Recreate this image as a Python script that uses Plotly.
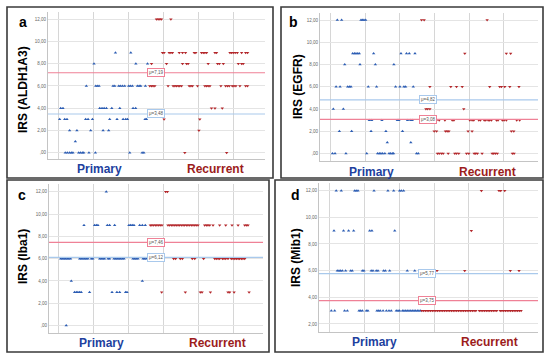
import plotly.graph_objects as go

W, H = 550, 359
FONT = '"Liberation Sans", Arial, sans-serif'

# ---------------- data (x = case position, grouped by IRS level) ----------------
a_pri_levels = [0, 1, 2, 3, 4, 6, 8, 9]
a_pri_pos = [
    [3.6, 4.8, 6.1, 7.1, 8.0, 11.3, 12.3, 13.4, 14.2, 17.2, 20.9, 40.6, 47.7, 48.7],
    [9.4],
    [6.1, 10.3, 18.2, 25.3, 28.5],
    [0.4, 3.3, 4.6, 15.3, 16.7, 19.2, 29.1, 33.3, 36.8, 38.3, 39.3, 49.4, 50.2],
    [1.0, 2.3, 23.4, 24.7, 25.9, 27.2, 30.3, 34.9, 42.5, 44.0],
    [15.7, 21.1, 22.0, 23.0, 31.0, 32.0, 34.3, 35.2, 36.4, 37.7, 40.0, 41.0, 42.1, 45.0, 46.0, 46.9, 49.6],
    [20.1, 44.1, 50.8],
    [32.4, 41.2],
]
a_rec_levels = [0, 2, 3, 4, 6, 8, 9, 12]
a_rec_pos = [
    [72.2, 96.2],
    [80.3],
    [60.3, 80.8],
    [87.5, 89.5, 93.7],
    [52.1, 53.1, 54.0, 55.0, 62.6, 65.5, 66.5, 67.4, 68.4, 69.3, 70.3, 74.7, 75.7, 76.6, 79.5, 83.7, 84.7,
     85.6, 86.6, 92.9, 95.6, 96.7, 97.7, 99.4, 100.4, 101.5, 103.8, 107.1, 108.2],
    [53.1, 61.7, 70.9, 73.2, 74.1, 85.6, 91.0, 92.0, 94.3, 102.9, 104.8, 105.7],
    [59.4, 60.3, 63.2, 64.2, 65.1, 69.0, 70.9, 72.6, 77.6, 78.5, 81.8, 82.8, 83.7, 84.7, 89.5, 90.4, 98.1,
     99.0, 100.0, 101.1, 102.3, 104.8, 107.1, 108.2],
    [55.9, 56.9, 57.9, 58.8, 64.2],
]

b_pri_levels = [0, 1, 2, 3, 4, 6, 8, 9, 12]
b_pri_pos = [
    [1.0, 2.5, 8.8, 20.8, 27.1, 28.1, 29.0, 30.0, 31.3, 33.7, 34.6, 35.6, 36.3, 49.6, 50.6],
    [32.7, 46.3],
    [5.0, 12.1, 23.3, 31.9, 41.5],
    [22.3, 23.7, 29.6, 38.5, 39.4, 44.4, 46.2, 47.1],
    [1.5, 7.3],
    [3.1, 5.4, 9.8, 10.8, 11.7, 21.7, 26.5, 37.5, 40.0, 42.3, 43.3, 47.7],
    [8.1, 16.9, 25.8, 36.5],
    [12.7, 13.7, 14.6, 15.6, 16.5, 24.8, 40.6, 43.8, 45.4, 48.7],
    [3.8, 6.3, 17.5, 18.3, 19.2, 20.2],
]
b_rec_levels = [0, 2, 3, 4, 6, 9, 12]
b_rec_pos = [
    [61.7, 62.7, 64.0, 65.0, 67.9, 71.7, 72.7, 74.0, 78.5, 79.8, 82.9, 83.8, 84.8, 87.5, 93.3, 94.2, 95.2,
     96.3, 105.0, 106.0],
    [59.8, 61.2, 66.3, 67.3, 68.3, 79.4, 81.7, 104.4, 105.8],
    [56.9, 61.2, 62.7, 66.0, 70.2, 71.2, 80.4, 81.7, 82.7, 85.6, 86.5, 88.7, 89.6, 91.0, 91.9, 92.9, 95.8,
     96.7, 99.2, 100.2, 101.5, 107.5, 109.2],
    [55.0, 56.0, 57.3, 76.9],
    [57.3, 69.4, 72.7, 76.0, 91.9, 97.7, 98.7, 100.6, 103.5, 108.8],
    [77.5, 101.5, 104.0],
    [52.5, 54.0, 90.4],
]

c_pri_levels = [0, 3, 4, 6, 9, 12]
c_pri_pos = [
    [4.2],
    [9.0, 10.0, 10.9, 11.9, 12.8, 17.6, 30.5, 33.3, 34.9, 38.3, 39.1],
    [7.1, 47.9],
    [1.0, 1.9, 2.9, 3.8, 4.8, 5.7, 6.7, 11.9, 12.8, 13.8, 14.8, 15.7, 16.7, 18.6, 19.5, 23.4, 24.3, 25.3,
     26.2, 28.2, 29.1, 31.6, 32.6, 33.5, 34.5, 35.4, 36.4, 37.4, 42.5, 43.5, 44.4, 45.4, 48.3, 49.2, 50.2],
    [14.4, 20.5, 21.5, 22.4, 27.8, 29.1, 32.0, 40.2, 41.2, 42.1, 43.1, 46.4, 47.9, 49.6],
    [27.2],
]
c_rec_levels = [3, 6, 9, 12]
c_rec_pos = [
    [59.0, 72.6, 81.2, 82.2, 87.0, 97.1, 98.1, 100.6, 109.2],
    [65.9, 67.0, 69.7, 70.9, 76.6, 78.0, 83.1, 89.5, 90.4, 91.4, 92.3, 93.9, 94.8, 95.8, 97.1, 99.0, 100.0,
     101.0, 101.9, 102.9, 103.8, 104.8, 105.7, 106.7],
    [52.5, 53.4, 54.4, 55.4, 56.3, 57.3, 58.2, 59.2, 62.6, 63.6, 64.6, 65.5, 66.5, 67.4, 68.4, 69.3, 70.3,
     71.3, 72.2, 73.2, 74.1, 75.1, 76.1, 77.0, 78.0, 78.9, 79.9, 83.7, 84.7, 85.6, 86.6, 88.5, 92.3, 95.8,
     99.4, 102.9, 106.7, 107.7, 108.6],
    [61.3, 62.3],
]

d_pri_levels = [3, 6, 9, 12]
d_pri_pos = [
    [1.0, 2.9, 8.6, 10.2, 16.9, 17.8, 18.8, 21.1, 22.0, 27.2, 28.2, 29.1, 30.7, 32.6, 34.1, 35.4, 38.3, 39.3,
     40.2, 41.8, 42.7, 43.7, 44.6, 45.6, 46.6, 47.5, 48.5, 49.4, 50.4, 51.3, 52.3],
    [4.4, 5.4, 6.3, 7.3, 9.2, 12.1, 13.0, 18.8, 19.7, 23.9, 24.9, 26.8, 27.8, 31.0, 32.0, 34.5, 44.6, 48.9],
    [2.5, 8.0, 10.9, 13.8, 23.0, 24.3, 37.4],
    [3.8, 6.7, 14.4, 15.3, 16.3, 25.5, 33.5, 36.8, 40.2, 41.2, 42.5],
]
d_rec_levels = [3, 6, 9, 12]
d_rec_pos = [
    [53, 54, 55, 56, 57, 58, 59, 60, 61, 62, 63, 64, 65, 66, 67, 68, 69, 70, 71, 72, 73, 74, 75, 76, 77, 78,
     79, 80, 81, 82, 83, 84, 86, 87, 88, 89, 90, 91, 92, 93, 94, 95, 96, 98, 99, 100, 101, 102, 103, 104,
     105, 106, 107, 108, 109, 110],
    [61.7, 77.6, 103.8, 108.8],
    [81.4],
    [87.2, 97.3, 98.3, 100.6],
]

mean_primary = [3.48, 4.82, 6.12, 5.77]
mean_recurrent = [7.19, 3.08, 7.46, 3.75]
mean_primary_txt = ["μ=3,48", "μ=4,82", "μ=6,12", "μ=5,77"]
mean_recurrent_txt = ["μ=7,19", "μ=3,08", "μ=7,46", "μ=3,75"]

panel_letters = ["a", "b", "c", "d"]
y_titles = ["IRS (ALDH1A3)", "IRS (EGFR)", "IRS (Iba1)", "IRS (Mib1)"]
tick_vals_full = [0, 2, 4, 6, 8, 10, 12]
tick_text_full = [",00", "2,00", "4,00", "6,00", "8,00", "10,00", "12,00"]
tick_vals_d = [2, 4, 6, 8, 10, 12]
tick_text_d = ["2,00", "4,00", "6,00", "8,00", "10,00", "12,00"]
group_labels = ["Primary", "Recurrent"]

# ---------------- layout geometry (pixels) ----------------
panels = [
    dict(plot=(48, 265, 12, 159.3), xr=[-6.3, 118.2], yr=[-0.6, 12.66], box=(7, 273, 7, 178),
         letter=(23, 22), ytitle=(23, 90), labels=((99, 169), (215, 169)), label_x=55.7),
    dict(plot=(320, 538, 12.7, 161.3), xr=[-6.2, 119.8], yr=[-0.69, 12.66], box=(281, 543, 7, 178),
         letter=(293, 22), ytitle=(298, 87), labels=((371, 172), (487, 172)), label_x=56.3),
    dict(plot=(49, 263, 184, 333.3), xr=[-5.7, 117.2], yr=[-0.69, 12.69], box=(7, 269, 180, 352),
         letter=(22, 195), ytitle=(23, 257), labels=((101, 343), (217, 343)), label_x=55.6),
    dict(plot=(319, 538, 183.3, 331.7), xr=[-6.1, 119.7], yr=[1.42, 12.55], box=(275, 543, 180, 352),
         letter=(295, 195), ytitle=(296, 258), labels=((374, 342), (489, 342)), label_x=56.1),
]

def px(x):
    return x / W

def py(y):
    return 1 - y / H

BLUE = "#2b5cb3"
RED = "#b3262a"
BLUE_TXT = "#213f9e"
RED_TXT = "#9c1c1c"
BLUE_LINE = "#a9c9ec"
RED_LINE = "#ef8196"

data_sets = [
    (a_pri_levels, a_pri_pos, a_rec_levels, a_rec_pos),
    (b_pri_levels, b_pri_pos, b_rec_levels, b_rec_pos),
    (c_pri_levels, c_pri_pos, c_rec_levels, c_rec_pos),
    (d_pri_levels, d_pri_pos, d_rec_levels, d_rec_pos),
]

def flatten(levels, pos):
    xs, ys = [], []
    for lv, ps in zip(levels, pos):
        for p in ps:
            xs.append(p)
            ys.append(lv)
    return xs, ys

fig = go.Figure()
shapes = []
annotations = []
layout = {}

def paper_text(x, y, text, size, color, angle=0):
    return dict(x=px(x), y=py(y), xref="paper", yref="paper", text=text, showarrow=False,
                xanchor="center", yanchor="middle", textangle=angle,
                font=dict(size=size, color=color, family=FONT))

for i, (pan, ds) in enumerate(zip(panels, data_sets)):
    n = "" if i == 0 else str(i + 1)
    xa, ya = "x" + n, "y" + n
    l, r, t, b = pan["plot"]
    layout["xaxis" + n] = dict(
        domain=[px(l), px(r)], range=pan["xr"], anchor=ya,
        tickvals=[0, 20, 40, 60, 80, 100], showticklabels=False, ticks="",
        showgrid=True, gridcolor="#d6d6d6", gridwidth=1.3, zeroline=False,
        showline=True, linecolor="#c4c4c4", linewidth=1,
    )
    layout["yaxis" + n] = dict(
        domain=[py(b), py(t)], range=pan["yr"], anchor=xa,
        tickvals=tick_vals_d if i == 3 else tick_vals_full,
        ticktext=tick_text_d if i == 3 else tick_text_full,
        tickfont=dict(size=4.5, color="#666666", family=FONT),
        ticks="", showgrid=True, gridcolor="#e4e4e4", gridwidth=1, zeroline=False,
        showline=True, linecolor="#c4c4c4", linewidth=1,
    )
    pl, pp, rl, rp = ds
    x1, y1 = flatten(pl, pp)
    x2, y2 = flatten(rl, rp)
    fig.add_trace(go.Scatter(x=x1, y=y1, mode="markers", xaxis=xa, yaxis=ya, showlegend=False,
                             hoverinfo="skip",
                             marker=dict(symbol="triangle-up", size=3, color=BLUE, line=dict(width=0))))
    fig.add_trace(go.Scatter(x=x2, y=y2, mode="markers", xaxis=xa, yaxis=ya, showlegend=False,
                             hoverinfo="skip",
                             marker=dict(symbol="triangle-down", size=3, color=RED, line=dict(width=0))))
    # mean lines
    for mv, col in ((mean_primary[i], BLUE_LINE), (mean_recurrent[i], RED_LINE)):
        shapes.append(dict(type="line", xref=xa + " domain", yref=ya, x0=0, x1=1, y0=mv, y1=mv,
                           line=dict(color=col, width=1.2), layer="above"))
    for mv, txt, col in ((mean_primary[i], mean_primary_txt[i], BLUE_LINE),
                         (mean_recurrent[i], mean_recurrent_txt[i], RED_LINE)):
        annotations.append(dict(x=pan["label_x"], y=mv, xref=xa, yref=ya, text=txt, showarrow=False,
                                xanchor="center", yanchor="middle",
                                font=dict(size=4.5, color="#555555", family=FONT),
                                bgcolor="white", bordercolor=col, borderwidth=1, borderpad=1))
    # panel border
    bl, br, bt, bb = pan["box"]
    shapes.append(dict(type="rect", xref="paper", yref="paper", x0=px(bl), x1=px(br), y0=py(bb), y1=py(bt),
                       line=dict(color="#3a3a3a", width=1.6)))
    annotations.append(paper_text(pan["letter"][0], pan["letter"][1],
                                  "<b>%s</b>" % panel_letters[i], 14, "black"))
    annotations.append(paper_text(pan["ytitle"][0], pan["ytitle"][1],
                                  "<b>%s</b>" % y_titles[i], 12, "black", angle=-90))
    for (gx, gy), txt, col in zip(pan["labels"], group_labels, (BLUE_TXT, RED_TXT)):
        annotations.append(paper_text(gx, gy, "<b>%s</b>" % txt, 12, col))

fig.update_layout(
    width=W, height=H, margin=dict(l=0, r=0, t=0, b=0),
    paper_bgcolor="white", plot_bgcolor="white", hovermode=False,
    shapes=shapes, annotations=annotations, **layout,
)

fig.write_html("out.html", config={"displayModeBar": False},
               post_script="document.body.style.margin='0';document.body.style.overflow='hidden';")
